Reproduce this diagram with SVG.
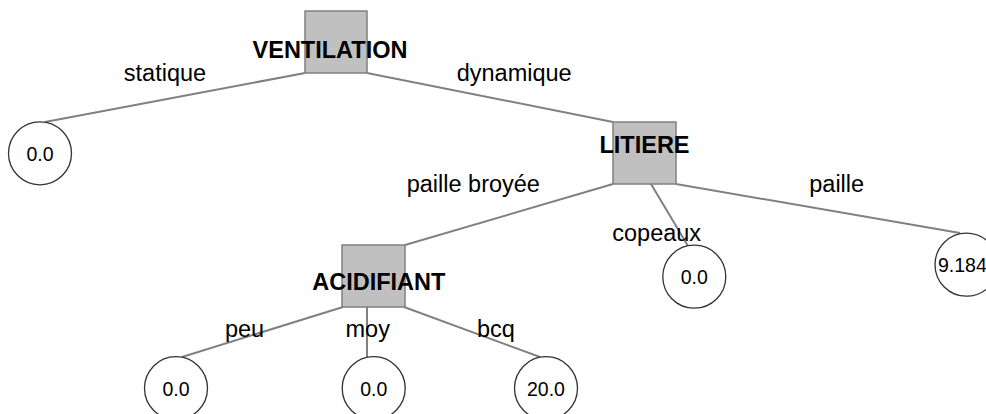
<svg xmlns="http://www.w3.org/2000/svg" width="986" height="414" viewBox="0 0 986 414">
<style>
.edge{stroke:#808080;stroke-width:2;fill:none}
.box{fill:#c0c0c0;stroke:#808080;stroke-width:1.5}
.leaf{fill:#ffffff;stroke:#333333;stroke-width:1.3}
.name{font-family:"Liberation Sans",Arial,sans-serif;font-weight:bold;font-size:23.5px;fill:#000;text-anchor:middle}
.lbl{font-family:"Liberation Sans",Arial,sans-serif;font-size:23.5px;fill:#000;text-anchor:middle}
.val{font-family:"Liberation Sans",Arial,sans-serif;font-size:19.5px;fill:#000;text-anchor:middle}
</style>
<rect width="986" height="414" fill="#ffffff"/>
<g id="connectors">
<line class="edge" x1="305" y1="73" x2="45" y2="122"/>
<line class="edge" x1="367" y1="73" x2="613" y2="122"/>
<line class="edge" x1="613" y1="184" x2="405" y2="245"/>
<line class="edge" x1="651" y1="184" x2="688" y2="246"/>
<line class="edge" x1="676" y1="184" x2="960" y2="233"/>
<line class="edge" x1="343" y1="307" x2="182" y2="357"/>
<line class="edge" x1="367" y1="307" x2="367" y2="357"/>
<line class="edge" x1="404" y1="307" x2="540" y2="357"/>
</g>
<g id="n-ventilation">
<rect class="box" x="305" y="11" width="62" height="62"/>
<text class="name" x="330" y="58">VENTILATION</text>
</g>
<g id="n-litiere">
<rect class="box" x="613" y="122" width="63" height="62"/>
<text class="name" x="644.5" y="153">LITIERE</text>
</g>
<g id="n-acidifiant">
<rect class="box" x="342" y="245" width="63" height="62"/>
<text class="name" x="378.8" y="290">ACIDIFIANT</text>
</g>
<g id="leaf-statique">
<circle class="leaf" cx="40" cy="153.3" r="31.5"/>
<text class="val" x="40" y="161">0.0</text>
</g>
<g id="leaf-copeaux">
<circle class="leaf" cx="694.3" cy="276.7" r="31.5"/>
<text class="val" x="694.3" y="284.3">0.0</text>
</g>
<g id="leaf-paille">
<circle class="leaf" cx="966.5" cy="264.7" r="31.5"/>
<text class="val" x="938" y="272.3" style="text-anchor:start">9.184</text>
</g>
<g id="leaf-peu">
<circle class="leaf" cx="176" cy="388.2" r="31.5"/>
<text class="val" x="176" y="395.5">0.0</text>
</g>
<g id="leaf-moy">
<circle class="leaf" cx="373.7" cy="388.2" r="31.5"/>
<text class="val" x="373.7" y="395.5">0.0</text>
</g>
<g id="leaf-bcq">
<circle class="leaf" cx="546" cy="388.2" r="31.5"/>
<text class="val" x="546" y="395.5">20.0</text>
</g>
<g id="edge-labels">
<text class="lbl" x="165" y="81">statique</text>
<text class="lbl" x="514.2" y="81">dynamique</text>
<text class="lbl" x="473.3" y="192">paille broyée</text>
<text class="lbl" x="656.7" y="241">copeaux</text>
<text class="lbl" x="836.7" y="192">paille</text>
<text class="lbl" x="244.5" y="337">peu</text>
<text class="lbl" x="367.7" y="337">moy</text>
<text class="lbl" x="496" y="337">bcq</text>
</g>
</svg>
